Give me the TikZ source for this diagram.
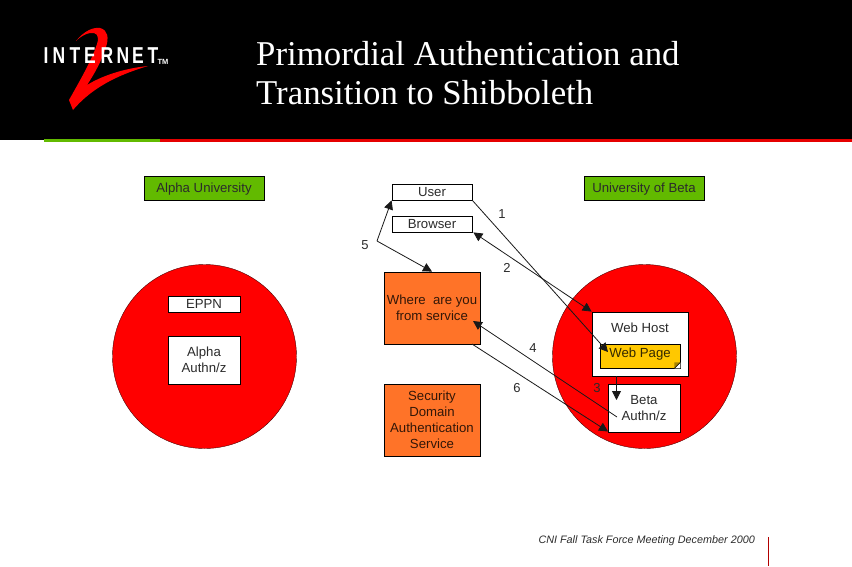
\documentclass[tikz,border=0pt]{standalone}
\usepackage{fontspec}
\setmainfont{Liberation Sans}
\newfontfamily\titlefont{Liberation Serif}
\usetikzlibrary{arrows.meta}
\definecolor{slidegreen}{HTML}{62BA00}
\definecolor{slidered}{HTML}{FF0000}
\definecolor{lineorange}{HTML}{FF7328}
\definecolor{pageyellow}{HTML}{FFC800}
\definecolor{textgrey}{HTML}{2B2B2B}
\begin{document}
\begin{tikzpicture}[x=1pt,y=-1pt,
    main/.style = {draw, fill=white, text=textgrey, font=\fontsize{13.2}{16}\selectfont, align=center, inner sep=0pt, line width=.8pt},
    oneline/.style = {main, text height=11pt, text depth=1.5pt},
    tag/.style = {oneline, fill=slidegreen},
    service/.style = {main, fill=lineorange, text=black!80!lineorange},
    disc/.style = {circle, draw=black!70!red, fill=slidered, inner sep=0pt, minimum size=184pt},
    num/.style = {text=textgrey, font=\fontsize{13}{14}\selectfont, inner sep=0pt},
    letter/.style = {text=white, font=\fontsize{23}{23}\selectfont\bfseries, inner sep=0pt, xscale=.76},
    link/.style = {draw=black!90, line width=.8pt, -{Triangle[length=9pt,width=9pt]}}]
    \useasboundingbox (0,0) rectangle (852,566);
    % header band
    \fill[black] (0,0) rectangle (852,140);
    \fill[slidered!90!black] (160,139) rectangle (852,142);
    \fill[slidegreen] (44,139) rectangle (160,142);
    \fill[slidered] (76,41) .. controls (84,31) and (93,27) .. (100,28)
      .. controls (108,30) and (109,38) .. (106,47)
      .. controls (102,60) and (95,73) .. (87,85)
      .. controls (105,74) and (128,68) .. (148,66)
      .. controls (125,73) and (95,84) .. (73,110)
      -- (69,100) .. controls (78,84) and (92,60) .. (97,44)
      .. controls (100,35) and (96,32) .. (90,33)
      .. controls (85,34) and (80,37) .. (76,41) -- cycle;
    \foreach \x/\c in {46/I, 59/N, 75/T, 90/E, 107/R, 123/N, 138/E, 153/T}
      \node[letter] (logo\x) at (\x,56) {\c};
    \node[text=white, font=\fontsize{7.5}{7}\selectfont\bfseries, inner sep=0pt] (tm) at (163,62) {TM};
    \node[anchor=north west, text=white, font=\titlefont\fontsize{34.8}{39}\selectfont, align=left, inner sep=0pt] (title) at (256,41)
      {Primordial Authentication and\\Transition to Shibboleth};

    % discs and tags
    \node[disc] (alpha) at (204.5,356.5) {};
    \node[disc] (beta) at (644.5,356.5) {};
    \node[tag, minimum width=120pt, minimum height=24pt] (alphatag) at (204,188) {Alpha University};
    \node[tag, minimum width=120pt, minimum height=24pt] (betatag) at (644,188) {University of Beta};

    \node[oneline, minimum width=80pt, minimum height=16pt] (user) at (432,192) {User};
    \node[oneline, minimum width=80pt, minimum height=16pt] (browser) at (432,224) {Browser};
    \node[service, minimum width=96pt, minimum height=72pt] (where) at (432,308) {Where\ \ are you\\from service};
    \node[service, minimum width=96pt, minimum height=72pt] (security) at (432,420) {Security\\Domain\\Authentication\\Service};

    \node[oneline, minimum width=72pt, minimum height=16pt] (eppn) at (204,304) {EPPN};
    \node[main, minimum width=72pt, minimum height=48pt] (alphaauth) at (204,360) {Alpha\\Authn/z};

    \node[oneline, minimum width=96pt, minimum height=64pt, text depth=33.5pt] (webhost) at (640,344) {Web Host};
    \node[oneline, fill=pageyellow, text=black!80!pageyellow, minimum width=80pt, minimum height=24pt, text depth=7.5pt] (webpage) at (640,356) {Web Page};
    \fill[white] (webpage.south east) ++(-6,0) -- (webpage.south east) -- ++(0,-6) -- cycle;
    \fill[pageyellow!65!black] (webpage.south east) ++(-6,0) -- ++(6,-6) -- ++(-6,0) -- cycle;
    \draw[line width=.6pt] (webpage.south east) ++(-6,0) -- ++(6,-6);
    \node[main, minimum width=72pt, minimum height=48pt] (betaauth) at (644,408) {Beta\\Authn/z};

    % free ends of the arrows
    \coordinate (pagetip) at (608,352);
    \coordinate (wheretip) at (473,321);
    \coordinate (wherefoot) at (472,344);
    \coordinate (betafoot) at (608,431.5);
    \coordinate (authstart) at (617,417);
    \coordinate (bend) at (377,241);
    \coordinate (hostfoot) at (616.5,376);
    \coordinate (authtop) at (616.5,400);

    \draw[link] (user.south east) -- (pagetip);
    \draw[link, {Triangle[length=9pt,width=9pt]}-{Triangle[length=9pt,width=9pt]}] (browser.south east) ++(1,0) -- (webhost.north west);
    \draw[link] (hostfoot) -- (authtop);
    \draw[link] (authstart) -- (wheretip);
    \draw[link] (wherefoot) -- (betafoot);
    \draw[link] (bend) -- (user.south west);
    \draw[link] (bend) -- (where.north);

    \node[num] (n1) at (502,214) {1};
    \node[num] (n2) at (507,268) {2};
    \node[num] (n3) at (597,388) {3};
    \node[num] (n4) at (533,348) {4};
    \node[num] (n5) at (365,245) {5};
    \node[num] (n6) at (517,388) {6};

    % footer
    \node[anchor=east, text=textgrey, font=\fontsize{10.8}{12}\selectfont\itshape, inner sep=0pt] (footer) at (755,540.5) {CNI Fall Task Force Meeting December 2000};
    \coordinate (ruletop) at (768,537);
    \coordinate (rulefoot) at (768,566);
    \draw[slidered!70!black, line width=1pt] (ruletop) -- (rulefoot);
  \end{tikzpicture}
\end{document}
